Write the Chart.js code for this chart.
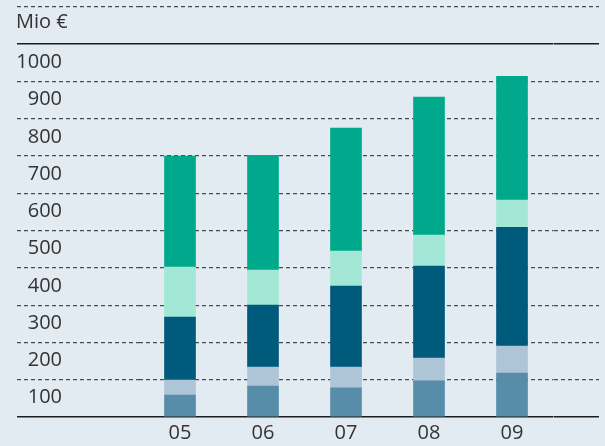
<!DOCTYPE html>
<html>
<head>
<meta charset="utf-8">
<script src="https://cdn.jsdelivr.net/npm/chart.js@4.4.0/dist/chart.umd.min.js"></script>
<style>
  html, body { margin: 0; padding: 0; background: #e2eaf2; }
  #wrap { width: 605px; height: 446px; }
</style>
</head>
<body>
<div id="wrap"><canvas id="myChart" width="605" height="446"></canvas></div>
<script>
// waarden (Mio €)
const jaren = ['05', '06', '07', '08', '09'];
const reeks1 = [59, 83, 78, 97, 118];
const reeks2 = [40, 51, 56, 61, 72];
const reeks3 = [169, 166, 217, 247, 319];
const reeks4 = [134, 94, 94, 83, 73];
const reeks5 = [298, 308, 330, 370, 332];
const eenheid = 'Mio €';
const yMax = 1100;
const yStap = 100;

const kleuren = ['#578da8', '#aec4d7', '#005a7c', '#a3e8d6', '#00a98b'];

const lijnKleur = (ctx) => (ctx.tick && (ctx.tick.value === 0 || ctx.tick.value === 1000)) ? '#1c1c1c' : '#474c52';
const lijnDikte = (ctx) => (ctx.tick && (ctx.tick.value === 0 || ctx.tick.value === 1000)) ? 1.6 : 1.3;
const lijnDash = (ctx) => (ctx.tick && (ctx.tick.value === 0 || ctx.tick.value === 1000)) ? [] : [4, 3];

const eenheidLabel = {
    id: 'eenheidLabel',
    afterDraw(chart) {
        const ctx = chart.ctx;
        const y = chart.scales.y.getPixelForValue(yMax) + 15;
        ctx.save();
        ctx.font = '20px "Open Sans"';
        ctx.fillStyle = '#333333';
        ctx.textAlign = 'left';
        ctx.textBaseline = 'middle';
        ctx.fillText(eenheid, 16, y);
        ctx.restore();
    }
};

const renderChart = () => {
    const ctx = document.getElementById('myChart').getContext('2d');
    const reeksen = [reeks1, reeks2, reeks3, reeks4, reeks5];

    new Chart(ctx, {
        type: 'bar',
        data: {
            labels: jaren,
            datasets: reeksen.map((r, i) => ({
                label: 'reeks ' + (i + 1),
                data: r,
                backgroundColor: kleuren[i],
                borderWidth: 0,
                barThickness: 31
            }))
        },
        options: {
            responsive: false,
            animation: false,
            layout: { padding: { left: 17, right: 6, top: 7, bottom: 0 } },
            plugins: {
                legend: { display: false },
                tooltip: { enabled: false }
            },
            scales: {
                x: {
                    stacked: true,
                    grid: { display: false, drawTicks: false },
                    border: { display: false },
                    ticks: {
                        color: '#333333',
                        font: { family: 'Open Sans', size: 20 },
                        padding: 4
                    },
                    afterFit: (s) => { s.height = 29; }
                },
                y: {
                    stacked: true,
                    position: 'left',
                    min: 0,
                    max: yMax,
                    border: { display: false, dash: lijnDash },
                    grid: {
                        color: lijnKleur,
                        lineWidth: lijnDikte,
                        tickColor: lijnKleur,
                        tickWidth: lijnDikte,
                        tickBorderDash: lijnDash,
                        tickLength: 121.5
                    },
                    ticks: {
                        stepSize: yStap,
                        color: '#333333',
                        font: { family: 'Open Sans', size: 20 },
                        padding: -45,
                        labelOffset: 18,
                        callback: (v) => (v === 0 || v === yMax) ? '' : v
                    },
                    afterFit: (s) => { s.width = 121.5; s.paddingTop = 0; s.paddingBottom = 0; }
                },
                y2: {
                    position: 'right',
                    min: 0,
                    max: yMax,
                    border: { display: false, dash: lijnDash },
                    grid: {
                        drawOnChartArea: false,
                        color: lijnKleur,
                        lineWidth: lijnDikte,
                        tickColor: lijnKleur,
                        tickWidth: lijnDikte,
                        tickBorderDash: lijnDash,
                        tickLength: 45.5
                    },
                    ticks: { stepSize: yStap, display: false },
                    afterFit: (s) => { s.width = 45.5; s.paddingTop = 0; s.paddingBottom = 0; }
                }
            }
        },
        plugins: [eenheidLabel]
    });
};

document.addEventListener('DOMContentLoaded', renderChart);
</script>
</body>
</html>
